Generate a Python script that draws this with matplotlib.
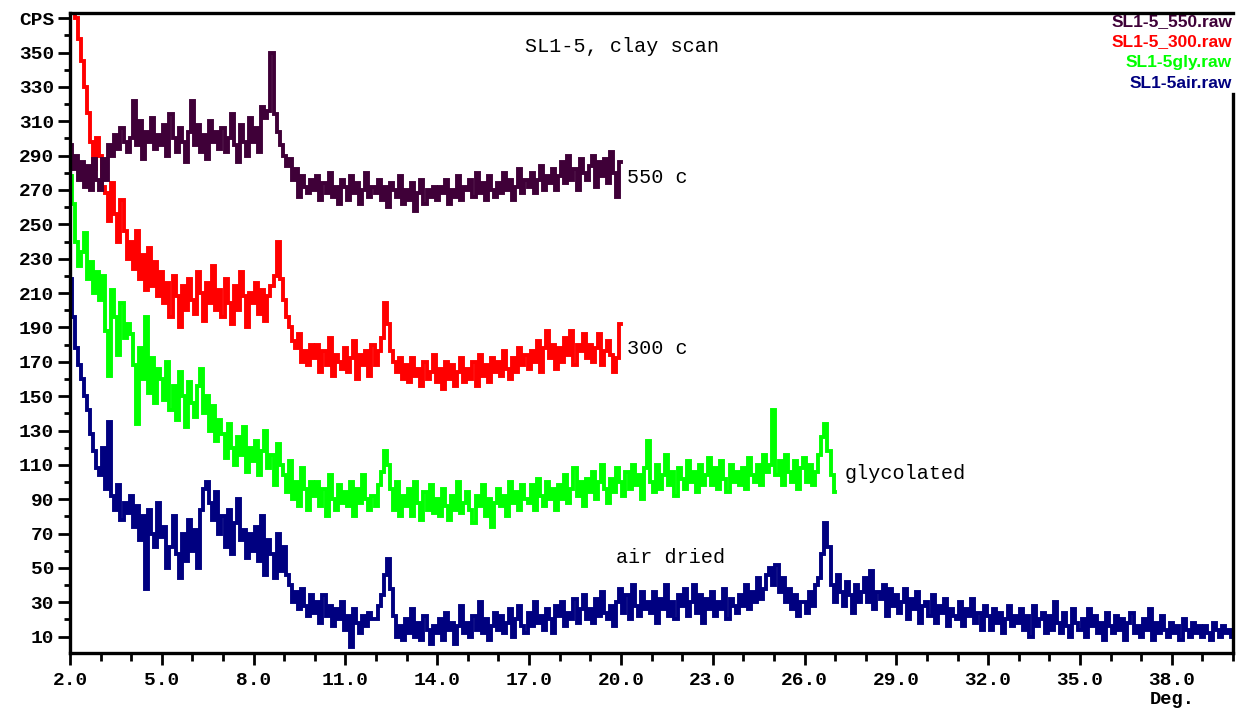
import numpy as np
import matplotlib
matplotlib.use("Agg")
import matplotlib.pyplot as plt
from matplotlib.ticker import MultipleLocator, FixedLocator

# scan grid (deg 2-theta), 0.1 deg step
step = 0.1

air_start = 2.0
air_cps = [
    218, 196, 178, 168, 160, 150, 142, 128, 118, 108,
    104, 120, 96, 135, 92, 84, 98, 78, 88, 82,
    92, 74, 86, 66, 80, 38, 84, 70, 62, 88,
    68, 74, 50, 62, 80, 58, 44, 70, 54, 78,
    60, 72, 50, 84, 96, 100, 88, 78, 94, 70,
    80, 62, 84, 58, 76, 90, 66, 72, 56, 70,
    60, 74, 54, 80, 46, 66, 58, 44, 70, 48,
    62, 46, 40, 30, 36, 26, 38, 28, 22, 34,
    24, 30, 18, 34, 22, 28, 16, 26, 20, 30,
    14, 22, 4, 26, 18, 12, 22, 16, 24, 20,
    20, 28, 34, 46, 55, 38, 22, 10, 16, 8,
    20, 12, 26, 10, 18, 8, 22, 14, 6, 16,
    12, 20, 8, 24, 14, 18, 6, 16, 28, 12,
    18, 10, 22, 14, 30, 12, 20, 8, 16, 24,
    14, 22, 12, 18, 26, 10, 20, 28, 16, 12,
    24, 16, 30, 18, 22, 14, 26, 20, 12, 28,
    22, 30, 16, 24, 20, 32, 18, 26, 34, 20,
    26, 18, 32, 22, 36, 24, 20, 28, 16, 30,
    38, 24, 34, 20, 40, 28, 22, 36, 26, 30,
    24, 36, 18, 32, 26, 40, 22, 30, 20, 34,
    28, 38, 22, 30, 40, 24, 34, 18, 32, 26,
    36, 22, 30, 26, 38, 20, 32, 28, 24, 34,
    28, 40, 26, 36, 30, 44, 32, 38, 46, 50,
    40, 52, 36, 44, 30, 38, 26, 34, 22, 30,
    30, 24, 36, 28, 40, 44, 58, 76, 62, 40,
    30, 46, 36, 28, 42, 34, 24, 40, 30, 36,
    44, 30, 48, 26, 36, 32, 40, 22, 38, 28,
    34, 24, 30, 38, 20, 32, 26, 36, 18, 28,
    30, 22, 34, 18, 28, 24, 32, 16, 26, 22,
    20, 30, 16, 26, 22, 32, 18, 24, 14, 28,
    22, 14, 26, 18, 24, 12, 20, 28, 16, 22,
    18, 26, 14, 22, 10, 28, 16, 20, 24, 12,
    22, 14, 30, 18, 12, 24, 16, 10, 26, 18,
    14, 20, 10, 26, 16, 22, 12, 18, 8, 24,
    16, 12, 22, 14, 20, 8, 18, 24, 12, 16,
    10, 20, 14, 26, 8, 18, 12, 22, 14, 10,
    18, 12, 16, 8, 20, 14, 10, 18, 12, 16,
    10, 16, 12, 8, 18, 14, 10, 16, 12, 14,
    10,
]

gly_start = 2.0
gly_cps = [
    278, 262, 240, 226, 234, 245, 218, 228, 210, 222,
    206, 220, 188, 162, 212, 196, 174, 204, 184, 192,
    186, 168, 134, 178, 160, 196, 152, 172, 146, 166,
    160, 148, 170, 142, 156, 136, 164, 150, 132, 158,
    146, 138, 156, 166, 140, 150, 130, 144, 124, 136,
    128, 114, 134, 120, 110, 126, 116, 132, 106, 120,
    112, 124, 104, 118, 130, 108, 116, 98, 122, 110,
    104, 94, 112, 90, 100, 86, 108, 96, 84, 100,
    92, 100, 86, 96, 80, 104, 90, 84, 98, 88,
    94, 86, 100, 80, 96, 88, 104, 90, 84, 92,
    86, 98, 106, 118, 110, 96, 84, 100, 80, 92,
    86, 96, 80, 100, 88, 78, 94, 84, 98, 82,
    90, 80, 96, 86, 78, 92, 84, 100, 82, 88,
    94, 84, 76, 92, 86, 98, 80, 90, 74, 88,
    96, 86, 92, 80, 100, 88, 94, 84, 98, 90,
    88, 98, 84, 102, 92, 86, 100, 90, 96, 84,
    98, 90, 104, 88, 96, 108, 92, 100, 86, 102,
    94, 106, 90, 100, 110, 96, 88, 102, 94, 108,
    100, 92, 106, 96, 110, 98, 104, 90, 108, 124,
    100, 94, 110, 96, 104, 116, 98, 106, 92, 108,
    102, 96, 112, 100, 106, 94, 110, 98, 104, 114,
    98, 108, 96, 112, 102, 94, 110, 100, 106, 98,
    108, 96, 114, 104, 100, 110, 98, 116, 106, 110,
    142, 104, 112, 98, 116, 106, 100, 112, 96, 108,
    114, 100, 110, 98, 106, 116, 126, 134, 118, 104,
    94,
]

c300_start = 2.0
c300_cps = [
    395, 388, 370, 358, 345, 330, 315, 298, 282, 300,
    290, 272, 268, 252, 274, 256, 240, 264, 246, 230,
    240, 224, 246, 218, 232, 212, 236, 214, 228, 208,
    222, 204, 216, 196, 220, 208, 190, 214, 200, 218,
    206, 198, 222, 210, 194, 216, 204, 226, 200, 212,
    196, 218, 204, 192, 214, 200, 222, 208, 190, 210,
    204, 216, 198, 212, 194, 208, 214, 220, 240, 218,
    206, 196, 190, 182, 178, 186, 170, 176, 168, 180,
    172, 180, 164, 176, 168, 184, 162, 174, 170, 166,
    178, 164, 172, 182, 160, 174, 168, 176, 162, 180,
    168, 176, 184, 204, 192, 176, 170, 164, 172, 160,
    168, 158, 172, 162, 166, 156, 170, 160, 164, 174,
    158, 166, 154, 170, 160, 168, 156, 164, 172, 158,
    166, 160, 170, 156, 174, 162, 168, 158, 172, 164,
    170, 162, 176, 166, 160, 172, 164, 178, 168, 174,
    166, 176, 170, 182, 164, 178, 188, 172, 180, 166,
    178, 170, 184, 174, 188, 168, 180, 176, 186, 172,
    180, 170, 178, 186, 168, 176, 182, 174, 164, 172,
    192,
]

c550_start = 2.0
c550_cps = [
    296, 282, 290, 276, 286, 272, 284, 270, 288, 276,
    270, 288, 276, 296, 290, 302, 294, 306, 298, 292,
    300, 322, 296, 310, 288, 304, 298, 312, 294, 302,
    296, 308, 290, 314, 300, 292, 306, 298, 286, 304,
    322, 296, 308, 292, 302, 288, 310, 298, 304, 294,
    306, 292, 300, 314, 296, 286, 308, 298, 290, 312,
    298, 306, 292, 318, 312, 316, 350, 314, 304, 296,
    290, 284, 288, 276, 282, 266, 278, 272, 268, 276,
    270, 278, 264, 274, 268, 280, 266, 272, 262, 276,
    272, 264, 278, 268, 274, 262, 270, 280, 266, 272,
    268, 276, 264, 272, 260, 274, 270, 266, 278, 262,
    270, 264, 274, 258, 268, 276, 262, 270, 266, 272,
    264, 272, 268, 276, 262, 270, 266, 278, 264, 272,
    270, 276, 266, 280, 268, 274, 264, 278, 270, 266,
    274, 268, 280, 270, 276, 264, 272, 282, 268, 276,
    272, 280, 268, 276, 284, 270, 278, 274, 282, 270,
    278, 286, 274, 290, 276, 282, 270, 288, 280, 276,
    284, 290, 272, 286, 278, 288, 274, 292, 280, 266,
    286,
]

series = [
    ("SL1-5air.raw", "#000080", air_start, air_cps),
    ("SL1-5gly.raw", "#00ff00", gly_start, gly_cps),
    ("SL1-5_300.raw", "#ff0000", c300_start, c300_cps),
    ("SL1-5_550.raw", "#3f0038", c550_start, c550_cps),
]
curve_labels = [("550 c", 20.2, 277), ("300 c", 20.2, 178),
                ("glycolated", 27.3, 105), ("air dried", 19.85, 56)]

mono = "Liberation Mono"

fig = plt.figure(figsize=(12.41, 7.19), dpi=100)
ax = fig.add_axes([70 / 1241, 66 / 719, 1163 / 1241, 640 / 719])

for name, col, x0, vals in series:
    x = x0 + step * np.arange(len(vals))
    ax.plot(x, vals, color=col, lw=2.8, drawstyle="steps-mid", solid_joinstyle="miter")

ax.set_xlim(2.0, 40.0)
ax.set_ylim(0.5, 373)

for side in ["left", "bottom", "top", "right"]:
    ax.spines[side].set_linewidth(2.4)
    ax.spines[side].set_color("black")
    ax.spines[side].set_zorder(6)
ax.spines["right"].set_bounds(0.5, 326)

ax.xaxis.set_major_locator(FixedLocator(np.arange(2, 39, 3)))
ax.xaxis.set_minor_locator(MultipleLocator(1))
ax.xaxis.set_major_formatter(matplotlib.ticker.FormatStrFormatter("%.1f"))
ytick_vals = list(range(10, 371, 20))
ax.yaxis.set_major_locator(FixedLocator(ytick_vals))
ax.set_yticklabels([str(v) for v in ytick_vals[:-1]] + ["CPS"])
ax.yaxis.set_minor_locator(MultipleLocator(10))

ax.tick_params(axis="x", which="major", direction="out", length=8.5, width=2.0, pad=5, labelsize=14)
ax.tick_params(axis="x", which="minor", direction="out", length=6, width=2.0)
ax.tick_params(axis="y", which="major", direction="out", length=8.5, width=2.0, pad=3, labelsize=14)
ax.tick_params(axis="y", which="minor", direction="out", length=4, width=2.0)
for lab in ax.get_xticklabels() + ax.get_yticklabels():
    lab.set_family(mono)
    lab.set_fontweight("bold")

# free text placed in pixels (origin bottom-left)
ax.text(622, 719 - 47, "SL1-5, clay scan", transform=None, fontsize=14.5, family=mono,
        ha="center", va="center")
ax.text(1172, 719 - 700, "Deg.", transform=None, fontsize=13.5, family=mono, fontweight="bold",
        ha="center", va="center")

for txt, xx, yy in curve_labels:
    ax.text(xx, yy, txt, fontsize=14.5, family=mono, ha="left", va="center")

# legend of file names, top right
legend_y = [697, 677, 657, 636]
for (name, col, _, _), yy in zip(series[::-1], legend_y):
    ax.text(1232, yy, name, transform=None, fontsize=12.5, family="Liberation Sans",
            fontweight="bold", color=col, ha="right", va="center", zorder=5,
            bbox=dict(facecolor="white", edgecolor="none", pad=1.0))

fig.savefig("out.png", dpi=100, facecolor="white")
